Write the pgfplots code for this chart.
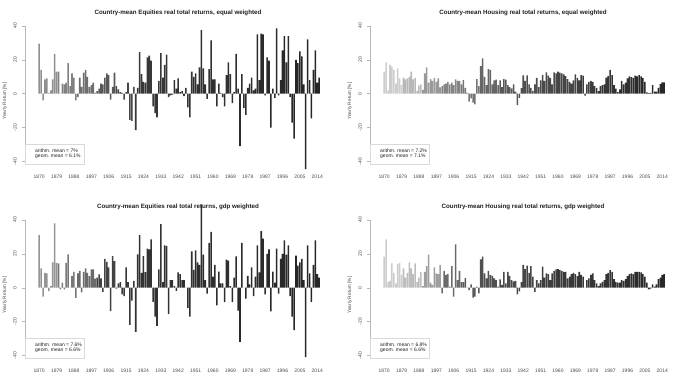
\documentclass[border=0pt]{standalone}
\usepackage{fontspec}
\setmainfont{Liberation Sans}
\usepackage{graphicx}
\usepackage{pgfplots}
\usepackage{pgfplotstable}
\pgfplotsset{compat=1.18}
\definecolor{axgray}{gray}{0.72}
\definecolor{txgray}{gray}{0.30}
\definecolor{titcol}{gray}{0.12}
\definecolor{boxgray}{gray}{0.85}
\newcommand\defgrays[2]{\foreach \g [count=\i from 0] in {#2} {\pgfmathtruncatemacro\yr{1870+10*\i}\xglobal\definecolor{#1\yr}{gray}{\g}}}
\defgrays{cA}{0.56,0.50,0.43,0.34,0.27,0.22,0.21,0.20,0.19,0.19,0.18,0.17,0.16,0.15,0.15}
\defgrays{cB}{0.80,0.72,0.60,0.52,0.46,0.40,0.35,0.31,0.29,0.27,0.24,0.21,0.19,0.17,0.16}
\defgrays{cC}{0.58,0.47,0.42,0.26,0.22,0.20,0.20,0.19,0.18,0.18,0.17,0.17,0.16,0.15,0.15}
\defgrays{cD}{0.80,0.74,0.62,0.42,0.35,0.31,0.29,0.27,0.24,0.22,0.21,0.20,0.19,0.17,0.16}

\pgfplotstableread{
year eqe hoe eqg hog
1870 29.5 13 31 18.3
1871 14 18.5 11.4 28.5
1872 -4 2 -5.3 3.5
1873 8.5 17 8.8 4
1874 9 16 8.5 14.3
1875 0.5 14 -2 8.8
1876 2 6 1 2.5
1877 8.5 15 15 14
1878 23.5 9 38 14.7
1879 13 5 14.7 7.5
1880 13 9.5 14.3 11.4
1881 0 8.4 -1 6
1882 6 9 3 8.8
1883 5.5 10 -1 15
1884 6.5 13 14.7 11.4
1885 18 8.5 19.6 8
1886 4.5 9.4 0 14.3
1887 12 1.6 6.9 3.5
1888 9.5 4.7 9.4 6
1889 -4 5.5 -6 9.4
1890 -2 2.2 8.5 1
1891 9.5 12 10 9.4
1892 4 15.5 -2.8 12.8
1893 12.5 6.5 9.4 19.5
1894 14 8.6 11.4 3
1895 10 7.5 8.8 1.6
1896 4 9.4 6.9 12
1897 5 7 10.8 8.4
1898 6.5 9 10.8 8
1899 0.5 3.7 5.3 13.4
1900 1.5 4.5 6 -3.3
1901 3 5.5 7.9 10
1902 6 6 5.5 7.5
1903 5.5 7 -2.4 8
1904 9.5 5.5 17 0.6
1905 12 6.5 15.3 12.8
1906 11 5 12 -5.3
1907 -3.5 8.5 -13.8 25.5
1908 4 7.5 18.7 4.5
1909 12.5 7.5 15.7 10
1910 4.5 5.5 -0.5 3.3
1911 2.5 8 2.5 3.3
1912 1 3.5 3.3 5.7
1913 0.5 0.5 -4 0
1914 -3.5 -4.7 -5 -1.4
1915 1 -2.8 12 2
1916 6.5 -5.3 3.3 -5.9
1917 -15.5 -6.3 -22 -5.3
1918 -16 8.6 -7.7 0.6
1919 4 4.5 4 -3.3
1920 -21.5 16.3 -26 16.7
1921 3.5 20.8 19.6 18.3
1922 24.5 10 31 8.4
1923 11.5 5 8.8 5.5
1924 7 14.5 18.7 10
1925 6.5 14 9.2 7.5
1926 21.5 5.5 23 7
1927 22.5 7.9 22.6 5.5
1928 19.5 8.3 28.5 4.5
1929 -7.5 5.1 -8.3 0.6
1930 -11.5 7.9 -17 4.9
1931 -14 3.9 -22.6 1.6
1932 7.5 8.6 10.8 9.4
1933 24 8.3 37.5 2.5
1934 9.5 5.1 3.3 9.4
1935 17 3.9 25 7
1936 23 3.1 24.7 4.5
1937 -2 5.5 -15.5 3.7
1938 -1 1.2 4.5 4
1939 -0.5 -6.7 4.5 -4
1940 8 -2.4 1 -2.2
1941 3 3.3 -1.8 3.3
1942 9 10.8 9 13.4
1943 1 7.5 8 11
1944 1.5 10.8 4.5 13
1945 -1.5 5.5 4.5 8.8
1946 3.5 3.5 0 12.8
1947 -8 1.6 -12 6.5
1948 -14 5.5 -17 -2.4
1949 13 9.4 21.5 4.5
1950 10 3.9 10.5 2.5
1951 12 7.9 22 4.5
1952 5.5 11 15 12.4
1953 15.5 7.5 13.5 6
1954 37.5 12.6 49 8.4
1955 15 10.6 19.5 8
1956 5.5 9.4 4.5 4.5
1957 -3 5.5 -3.5 8.4
1958 14.5 12.6 26.5 10
1959 31.5 12 33 10.8
1960 8.5 13 6.5 11
1961 8.5 12.5 13.5 10.4
1962 -7.5 12 -10.5 10
1963 6 11.4 9.5 9.4
1964 0.5 10.4 2.5 9.4
1965 -2 8.6 2.5 5.5
1966 -7.5 7 -8.5 6.5
1967 11 5.9 16.5 8
1968 18.5 7.9 16 8.8
1969 11.5 11.4 1 8
1970 -5.5 9.4 -8.5 6.9
1971 1 7.9 6 9.4
1972 23.5 11 18.5 7.5
1973 3 10.6 -13.5 6.5
1974 -31 -1.2 -32 0
1975 11.5 5.5 26.5 4.5
1976 -8.5 7 0 5.5
1977 -12.5 7.5 -6.5 7.5
1978 3.5 7 7 8.4
1979 6 4.5 2 4.5
1980 9.5 3.5 12 2.5
1981 2 1.5 -5 1
1982 3 4.5 6.5 2.5
1983 35 5 25 3.5
1984 8 5.5 9 4.5
1985 35.5 9.5 33.4 8
1986 35 10.5 29 8.8
1987 -1 14 -4 10.4
1988 21.5 11 20 9.4
1989 19.5 5 22.6 5
1990 -20 3 -14 3.5
1991 3 1 9.5 3
1992 -2.5 2.5 3 3
1993 38.5 7.5 23 4.5
1994 -1 5.5 -3.5 4
1995 8 6.5 17 5
1996 25.5 9 20 6.9
1997 34 10.2 28 8
1998 18.5 9.8 19.5 8.4
1999 34 9.4 25 8
2000 -2 10.6 -5 9.4
2001 -17 10.2 -17 9.4
2002 -26.5 11 -25 9.4
2003 20 10.2 19 9
2004 18 9.4 13 8
2005 25 7 15 6.5
2006 22 0.8 17 3
2007 5.5 0.4 4.5 -1
2008 -44.5 0.5 -41 -0.6
2009 32 5.1 25 2
2010 8 1.2 8.5 0.6
2011 -14.5 1.2 -8.5 2
2012 14 3.5 13.5 5
2013 25.5 5.7 28 6
2014 6.5 6.7 8 7.5
2015 9.5 6.7 6 8
}\data

\pgfplotsset{
  panel/.style={
    scale only axis, width=305pt, height=146.4pt,
    xmin=1862.65, xmax=2020.6, ymin=-43.2, ymax=43.2,
    clip=false,
    axis line style={draw=none},
    tick pos=left,
    xtick={1870,1879,1888,1897,1906,1915,1924,1933,1942,1951,1960,1969,1978,1987,1996,2005,2014},
    ytick={-40,-20,0,20,40},
    xtick style={draw=none},
    ytick style={draw=axgray, line width=0.4pt},
    tick align=outside, major tick length=3pt,
    tick label style={font=\fontsize{5}{6}\selectfont, text=txgray},
    /pgf/number format/assume math mode=true,
    /pgf/number format/1000 sep={},
    xticklabel style={anchor=north, inner sep=0pt, yshift=-4.5pt},
    yticklabel={\rotatebox{90}{\pgfmathprintnumber{\tick}}},
    yticklabel style={anchor=east, inner sep=0pt, xshift=-5pt},
  },
  bar/.style={ybar, bar width=0.8, bar shift=0pt, draw=none},
}

\newcommand\panel[7]{%
  \begin{axis}[panel, at={(#1pt+25pt,367.5pt-#2pt)}, anchor=north west]
    \pgfplotsinvokeforeach{187,188,...,201}{%
      \addplot[bar, fill=#4##10, restrict x to domain=##10:##19] table[x=year,y=#3]{\data};}
    \draw[axgray, line width=0.4pt] (axis cs:1862.65,-40) -- (axis cs:1862.65,40);
  \end{axis}
  \node[font=\bfseries\fontsize{6.2}{7}\selectfont, text=titcol, inner sep=0pt] at (#1pt+178pt, 374.7pt-#2pt) {#5};
  \node[rotate=90, font=\fontsize{4.8}{5}\selectfont, text=txgray, inner sep=0pt] at (#1pt+5pt, 287pt-#2pt) {Yearly Return [\%]};
  \draw[boxgray, line width=0.4pt] (#1pt+25pt, 244pt-#2pt) rectangle (#1pt+84pt, 224pt-#2pt);
  \node[anchor=west, font=\fontsize{5}{6}\selectfont, text=titcol, inner sep=0pt] at (#1pt+35pt, 237.7pt-#2pt) {arithm. mean = #6\%};
  \node[anchor=west, font=\fontsize{5}{6}\selectfont, text=titcol, inner sep=0pt] at (#1pt+35pt, 231.7pt-#2pt) {geom. mean = #7\%};
}

\begin{document}
\begin{tikzpicture}
\path[use as bounding box] (0pt,0pt) rectangle (690pt,388pt);
\panel{0}{0}{eqe}{cA}{Country-mean Equities real total returns, equal weighted}{7}{6.1}
\panel{345}{0}{hoe}{cB}{Country-mean Housing real total returns, equal weighted}{7.2}{7.1}
\panel{0}{194}{eqg}{cC}{Country-mean Equities real total returns, gdp weighted}{7.6}{6.6}
\panel{345}{194}{hog}{cD}{Country-mean Housing real total returns, gdp weighted}{6.8}{6.6}
\end{tikzpicture}
\end{document}
